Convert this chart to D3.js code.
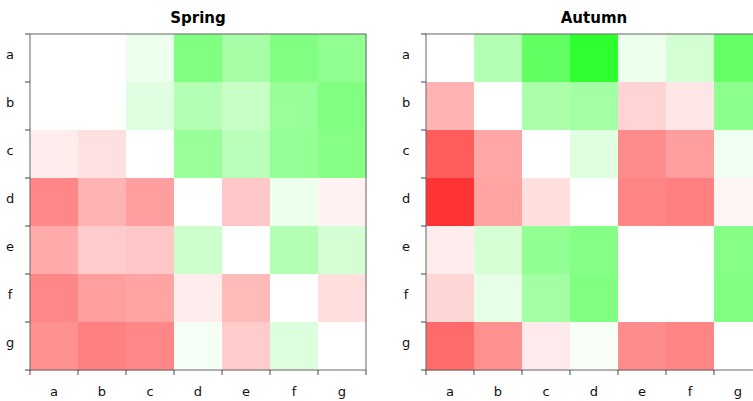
<!DOCTYPE html>
<html><head><meta charset="utf-8">
<script src="https://cdn.jsdelivr.net/npm/d3@7"></script>
<style>body{margin:0;background:#fff}svg{display:block}</style>
</head><body><svg id="chart"></svg>
<script>
const labels = ['a', 'b', 'c', 'd', 'e', 'f', 'g'];
const titles = ['Spring', 'Autumn'];
// positive = green, negative = red, magnitude = colour strength
const spring = [
  [0, 0, 0.07, 0.5, 0.35, 0.5, 0.43],
  [0, 0, 0.12, 0.3, 0.22, 0.4, 0.5],
  [-0.07, -0.12, 0, 0.4, 0.27, 0.42, 0.47],
  [-0.47, -0.3, -0.38, 0, -0.22, 0.07, -0.05],
  [-0.33, -0.2, -0.22, 0.2, 0, 0.3, 0.17],
  [-0.47, -0.38, -0.36, -0.07, -0.27, 0, -0.13],
  [-0.43, -0.5, -0.47, 0.04, -0.2, 0.13, 0]
];
const autumn = [
  [0, 0.3, 0.62, 0.82, 0.07, 0.17, 0.6],
  [-0.3, 0, 0.33, 0.36, -0.17, -0.1, 0.45],
  [-0.64, -0.35, 0, 0.12, -0.45, -0.38, 0.06],
  [-0.8, -0.36, -0.13, 0, -0.48, -0.5, -0.04],
  [-0.07, 0.16, 0.43, 0.48, 0, 0, 0.47],
  [-0.16, 0.1, 0.36, 0.5, 0, 0, 0.5],
  [-0.58, -0.43, -0.08, 0.03, -0.45, -0.48, 0]
];

const svg = d3.select('#chart').attr('width', 753).attr('height', 401);
const color = d3.scaleLinear().domain([-1, 0, 1]).range(['#ff0000', '#ffffff', '#00ff00']);

function panel(data, title, left) {
  const top = 34, size = 336;
  const x = d3.scaleBand().domain(labels).range([0, size]);
  const y = d3.scaleBand().domain(labels).range([0, size]);
  const g = svg.append('g').attr('transform', `translate(${left},${top})`);
  data.forEach((row, i) => row.forEach((v, j) => {
    g.append('rect')
      .attr('x', x(labels[j])).attr('y', y(labels[i]))
      .attr('width', x.bandwidth() + 0.5).attr('height', y.bandwidth() + 0.5)
      .attr('fill', color(v));
  }));
  g.append('rect').attr('width', size).attr('height', size)
    .attr('fill', 'none').attr('stroke', '#666').attr('stroke-width', 1);

  const tickX = d3.scaleLinear().domain([0, 7]).range([0, size]);
  const ax = g.append('g').attr('transform', `translate(0,${size})`);
  ax.selectAll('line').data(d3.range(8)).enter().append('line')
    .attr('x1', d => tickX(d)).attr('x2', d => tickX(d)).attr('y1', 0).attr('y2', 5).attr('stroke', '#444');
  ax.selectAll('text').data(labels).enter().append('text')
    .attr('class', 'lab')
    .attr('x', d => x(d) + x.bandwidth() / 2).attr('y', 26)
    .attr('text-anchor', 'middle').text(d => d);
  const ay = g.append('g');
  ay.selectAll('line').data(d3.range(8)).enter().append('line')
    .attr('y1', d => tickX(d)).attr('y2', d => tickX(d)).attr('x1', 0).attr('x2', -5).attr('stroke', '#444');
  ay.selectAll('text').data(labels).enter().append('text')
    .attr('class', 'lab')
    .attr('x', -20).attr('y', d => y(d) + y.bandwidth() / 2 - 4).attr('dy', '0.35em')
    .attr('text-anchor', 'middle').text(d => d);
  g.selectAll('text.lab').style('font-family', 'DejaVu Sans, sans-serif').style('font-size', '13px').attr('fill', '#111');
  svg.append('text').attr('x', left + size / 2).attr('y', 23).attr('text-anchor', 'middle')
    .style('font-family', 'DejaVu Sans, sans-serif').style('font-size', '15px').style('font-weight', 'bold')
    .text(title);
}
panel(spring, titles[0], 30);
panel(autumn, titles[1], 426);
</script></body></html>
